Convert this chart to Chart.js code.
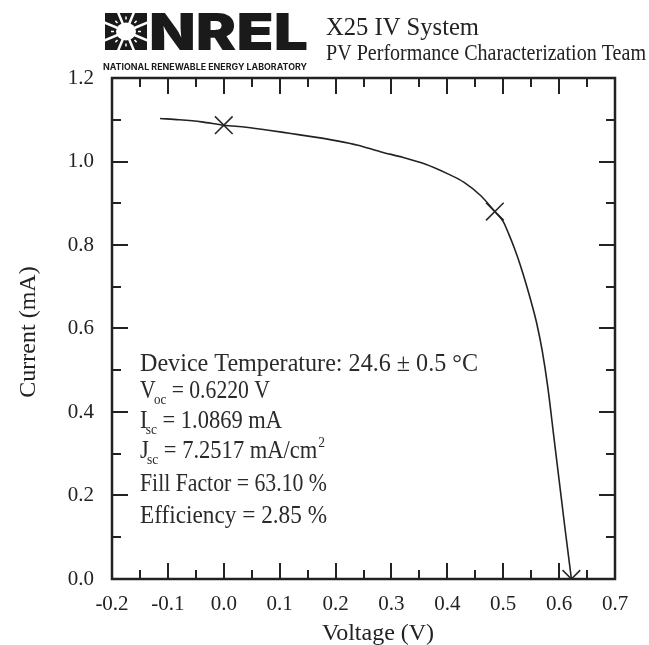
<!DOCTYPE html>
<html>
<head>
<meta charset="utf-8">
<title>X25 IV System – I-V curve</title>
<script src="https://cdn.jsdelivr.net/npm/chart.js@4.4.1/dist/chart.umd.min.js"></script>
<style>
  html, body { margin: 0; padding: 0; background: #fff; }
  #ivChart { display: block; }
</style>
</head>
<body>
<canvas id="ivChart" width="649" height="645"></canvas>
<script>
// Measured I-V sweep (voltage in V, current in mA)
const voltage = [-0.114, -0.08, -0.04, 0.00, 0.04, 0.08, 0.12, 0.16, 0.20, 0.24, 0.28, 0.32, 0.36, 0.40,
                 0.43, 0.46, 0.485, 0.50, 0.51, 0.52, 0.53, 0.54, 0.55, 0.56, 0.57, 0.58, 0.59, 0.60, 0.61, 0.622];
const current = [1.103, 1.100, 1.095, 1.087, 1.082, 1.075, 1.067, 1.059, 1.050, 1.039, 1.0235, 1.010, 0.994, 0.971,
                 0.950, 0.918, 0.880, 0.856, 0.826, 0.792, 0.754, 0.711, 0.664, 0.612, 0.545, 0.457, 0.347, 0.237, 0.127, 0.0];

// Key points: short-circuit, maximum power, open-circuit
const keyVoltage = [0.0, 0.485, 0.622];
const keyCurrent = [1.0869, 0.880, 0.0];

// Axis tick values
const xTickValues = [-0.2, -0.1, 0.0, 0.1, 0.2, 0.3, 0.4, 0.5, 0.6, 0.7];
const yTickValues = [0.0, 0.2, 0.4, 0.6, 0.8, 1.0, 1.2];

// Summary lines: [main, subscript, rest, superscript]
const summaryLines = [
  ['Device Temperature: 24.6 \u00B1 0.5 \u00B0C', '', '', ''],
  ['V', 'oc', ' = 0.6220 V', ''],
  ['I', 'sc', ' = 1.0869 mA', ''],
  ['J', 'sc', ' = 7.2517 mA/cm', '2'],
  ['Fill Factor = 63.10 %', '', '', ''],
  ['Efficiency = 2.85 %', '', '', '']
];
// set width of each summary line (px)
const summaryWidths = [338, 130, 142, 185, 187, 187];

const headerTitle = 'X25 IV System';
const headerSubtitle = 'PV Performance Characterization Team';
const logoWord = 'NREL';
const logoTagline = 'NATIONAL RENEWABLE ENERGY LABORATORY';
const xAxisTitle = 'Voltage (V)';
const yAxisTitle = 'Current (mA)';

const SERIF = "'Liberation Serif', 'DejaVu Serif', serif";
const INK = '#222';
const MAIN_FONT = '25px ' + SERIF;
const SMALL_FONT = '15px ' + SERIF;

function fitText(ctx, text, x, baseline, width, font) {
  ctx.font = font;
  const w = ctx.measureText(text).width;
  ctx.save();
  ctx.translate(x, baseline);
  ctx.scale(width / w, 1);
  ctx.textBaseline = 'alphabetic';
  ctx.textAlign = 'left';
  ctx.fillText(text, 0, 0);
  ctx.restore();
}

// lays out one summary line; draws it when draw is true, returns its natural width
function summaryLine(ctx, ln, draw) {
  let cx = 0;
  ctx.font = MAIN_FONT;
  if (draw) ctx.fillText(ln[0], cx, 0);
  cx += ctx.measureText(ln[0]).width;
  if (ln[1]) {
    cx -= 2;
    ctx.font = SMALL_FONT;
    if (draw) ctx.fillText(ln[1], cx, 6);
    cx += ctx.measureText(ln[1]).width;
  }
  if (ln[2]) {
    ctx.font = MAIN_FONT;
    if (draw) ctx.fillText(ln[2], cx, 0);
    cx += ctx.measureText(ln[2]).width;
  }
  if (ln[3]) {
    ctx.font = SMALL_FONT;
    if (draw) ctx.fillText(ln[3], cx + 1, -11);
    cx += 1 + ctx.measureText(ln[3]).width;
  }
  return cx;
}

// Frame, inward tick marks, axis titles, summary text and header
const decorations = {
  id: 'decorations',
  afterDraw(chart) {
    const { ctx, chartArea: a, scales: { x, y } } = chart;
    ctx.save();
    ctx.strokeStyle = INK;
    ctx.lineCap = 'butt';

    // inward ticks on all four sides
    ctx.lineWidth = 2;
    ctx.beginPath();
    for (let i = 1; i < 18; i++) {
      const v = -0.2 + i * 0.05;
      const px = Math.round(x.getPixelForValue(v));
      const len = i % 2 === 0 ? 16 : 9;
      ctx.moveTo(px, a.bottom); ctx.lineTo(px, a.bottom - len);
      ctx.moveTo(px, a.top); ctx.lineTo(px, a.top + len);
    }
    for (let i = 1; i < 12; i++) {
      const v = i * 0.1;
      const py = Math.round(y.getPixelForValue(v));
      const len = i % 2 === 0 ? 16 : 9;
      ctx.moveTo(a.left, py); ctx.lineTo(a.left + len, py);
      ctx.moveTo(a.right, py); ctx.lineTo(a.right - len, py);
    }
    ctx.stroke();

    // plot frame
    ctx.lineWidth = 2.5;
    ctx.strokeRect(a.left, a.top, a.right - a.left, a.bottom - a.top);

    // axis titles
    ctx.fillStyle = INK;
    ctx.font = '24px ' + SERIF;
    ctx.textAlign = 'center';
    ctx.textBaseline = 'alphabetic';
    ctx.fillText(xAxisTitle, 378, 640);
    ctx.save();
    ctx.translate(35, 332);
    ctx.rotate(-Math.PI / 2);
    ctx.fillText(yAxisTitle, 0, 0);
    ctx.restore();

    // summary block
    ctx.fillStyle = '#2a2a2a';
    ctx.textAlign = 'left';
    const baselines = [371, 398, 428, 458, 491, 523];
    summaryLines.forEach((ln, i) => {
      const natural = summaryLine(ctx, ln, false);
      ctx.save();
      ctx.translate(140, baselines[i]);
      ctx.scale(summaryWidths[i] / natural, 1);
      summaryLine(ctx, ln, true);
      ctx.restore();
    });

    // header: logo mark
    const lx = 105, ly = 13, lw = 42, lh = 37;
    ctx.fillStyle = '#1a1a1a';
    ctx.fillRect(lx, ly, lw, lh);
    const cxm = lx + lw / 2, cym = ly + lh / 2;
    ctx.fillStyle = '#fff';
    ctx.beginPath();
    ctx.ellipse(cxm, cym, 10, 9, 0, 0, Math.PI * 2);
    ctx.fill();
    ctx.strokeStyle = '#fff';
    ctx.lineWidth = 2.5;
    ctx.beginPath();
    for (let k = 0; k < 8; k++) {
      const ang = (22.5 + 45 * k) * Math.PI / 180;
      ctx.moveTo(cxm, cym);
      ctx.lineTo(cxm + Math.cos(ang) * 40, cym + Math.sin(ang) * 40);
    }
    ctx.stroke();
    // small notches inside each block
    ctx.lineWidth = 1.5;
    ctx.beginPath();
    for (let k = 0; k < 8; k++) {
      const ang = (45 * k) * Math.PI / 180;
      const r1 = 12, r2 = 15;
      ctx.moveTo(cxm + Math.cos(ang) * r1, cym + Math.sin(ang) * r1);
      ctx.lineTo(cxm + Math.cos(ang) * r2, cym + Math.sin(ang) * r2);
    }
    ctx.stroke();

    // header: logo word and tagline
    ctx.fillStyle = '#1a1a1a';
    fitText(ctx, logoWord, 149, 50, 159, "900 51px Inter, 'Liberation Sans', sans-serif");
    fitText(ctx, logoTagline, 103, 70, 204, "700 8.5px Inter, 'Liberation Sans', sans-serif");

    // header: titles
    ctx.fillStyle = INK;
    fitText(ctx, headerTitle, 326, 35, 153, '25px ' + SERIF);
    fitText(ctx, headerSubtitle, 326, 60, 320, '24px ' + SERIF);

    ctx.restore();
  }
};

const ctx = document.getElementById('ivChart').getContext('2d');
new Chart(ctx, {
  type: 'scatter',
  data: {
    datasets: [
      {
        label: 'I-V',
        data: voltage.map((v, i) => ({ x: v, y: current[i] })),
        showLine: true,
        borderColor: INK,
        borderWidth: 1.6,
        pointRadius: 0,
        cubicInterpolationMode: 'monotone',
        fill: false
      },
      {
        label: 'Key points',
        data: keyVoltage.map((v, i) => ({ x: v, y: keyCurrent[i] })),
        showLine: false,
        pointStyle: 'crossRot',
        pointRadius: 12.5,
        pointBorderWidth: 1.6,
        pointBorderColor: '#2a2a2a',
        borderColor: '#2a2a2a'
      }
    ]
  },
  options: {
    responsive: false,
    animation: false,
    devicePixelRatio: 1,
    layout: { padding: { left: 0, top: 78, right: 34, bottom: 0 } },
    plugins: {
      legend: { display: false },
      tooltip: { enabled: false }
    },
    scales: {
      x: {
        type: 'linear',
        min: -0.2,
        max: 0.7,
        afterBuildTicks: s => { s.ticks = xTickValues.map(v => ({ value: v })); },
        afterFit: s => { s.height = 66; },
        grid: { display: false, drawTicks: false },
        border: { display: false },
        ticks: {
          padding: 13,
          color: INK,
          font: { family: SERIF, size: 21 },
          maxRotation: 0,
          callback: v => Number(v).toFixed(1)
        }
      },
      y: {
        type: 'linear',
        min: 0,
        max: 1.2,
        afterBuildTicks: s => { s.ticks = yTickValues.map(v => ({ value: v })); },
        afterFit: s => { s.width = 112; },
        grid: { display: false, drawTicks: false },
        border: { display: false },
        ticks: {
          padding: 18,
          color: INK,
          font: { family: SERIF, size: 21 },
          callback: v => Number(v).toFixed(1)
        }
      }
    }
  },
  plugins: [decorations]
});
</script>
</body>
</html>
